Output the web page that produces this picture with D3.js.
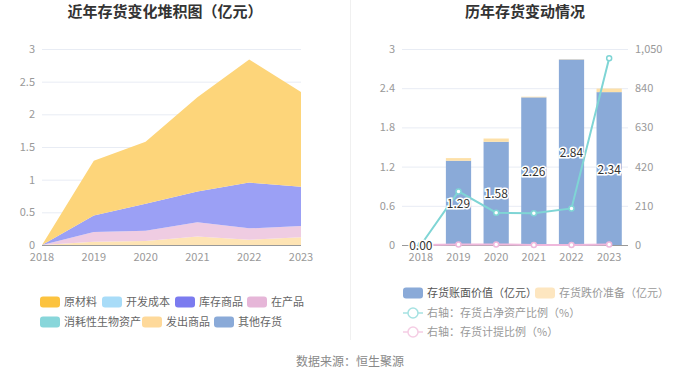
<!DOCTYPE html>
<html><head><meta charset="utf-8">
<script src="https://cdn.jsdelivr.net/npm/d3@7/dist/d3.min.js"></script>
<style>body{margin:0;background:#fff;font-family:"Noto Sans CJK SC","Noto Sans",sans-serif;}</style>
</head><body><svg id="c" width="700" height="378"></svg>
<script>
const years = ["2018","2019","2020","2021","2022","2023"];
// stacked area series (亿元)
const yuanCailiao   = [0, 0.84, 0.95, 1.44, 1.885, 1.45];
const kaifaChengben = [0, 0, 0, 0, 0, 0];
const kucunShangpin = [0, 0.25, 0.41, 0.47, 0.70, 0.60];
const zaiChanpin    = [0, 0.15, 0.16, 0.22, 0.175, 0.17];
const xiaohaoSheng  = [0, 0, 0, 0, 0, 0];
const fachuShangpin = [0, 0.05, 0.06, 0.13, 0.08, 0.12];
const qitaCunhuo    = [0, 0, 0, 0, 0, 0];
// right chart
const bookValue  = [0.00, 1.29, 1.58, 2.26, 2.84, 2.34];
const provision  = [0, 0.04, 0.05, 0.01, 0.005, 0.055];
const ratioNet   = [0, 287, 173, 170, 196, 1000];
const ratioProv  = [0, 3, 3, 0.4, 0.2, 2.3];
const leftTicks  = [0, 0.5, 1, 1.5, 2, 2.5, 3];
const barTicks   = [0, 0.6, 1.2, 1.8, 2.4, 3];
const rightTicks = [0, 210, 420, 630, 840, 1050];

const svg = d3.select("#c");
const tickColor = "#999", gridColor = "#e8ecf4";

// titles
svg.append("text").attr("x",165).attr("y",17).attr("text-anchor","middle")
  .attr("font-size",15).attr("font-weight","bold").attr("fill","#333").text("近年存货变化堆积图（亿元）");
svg.append("text").attr("x",525).attr("y",17).attr("text-anchor","middle")
  .attr("font-size",15).attr("font-weight","bold").attr("fill","#333").text("历年存货变动情况");
svg.append("line").attr("x1",350.5).attr("x2",350.5).attr("y1",0).attr("y2",340).attr("stroke","#f0f0f0");
svg.append("text").attr("x",350).attr("y",366).attr("text-anchor","middle")
  .attr("font-size",12).attr("fill","#888").text("数据来源：恒生聚源");

// ---------- left chart ----------
const series = [
  {name:"原材料", vals:yuanCailiao, color:"#fcc33f", area:"#fdd57a"},
  {name:"开发成本", vals:kaifaChengben, color:"#a8dcf8", area:"#a8dcf8"},
  {name:"库存商品", vals:kucunShangpin, color:"#7b7bef", area:"#9ba0f5"},
  {name:"在产品", vals:zaiChanpin, color:"#e6b6d8", area:"#efcce2"},
  {name:"消耗性生物资产", vals:xiaohaoSheng, color:"#88d6da", area:"#88d6da"},
  {name:"发出商品", vals:fachuShangpin, color:"#fed99a", area:"#fee4b4"},
  {name:"其他存货", vals:qitaCunhuo, color:"#8aaad8", area:"#8aaad8"}
];
const x1 = d3.scalePoint().domain(years).range([42,301]);
const y1 = d3.scaleLinear().domain([0,3]).range([245,49]);
const gL = svg.append("g");
gL.selectAll("line.g").data(leftTicks.slice(1)).join("line")
  .attr("x1",42).attr("x2",301).attr("y1",d=>y1(d)+0.5).attr("y2",d=>y1(d)+0.5).attr("stroke",gridColor);
gL.selectAll("text.yt").data(leftTicks).join("text")
  .attr("x",35).attr("y",d=>y1(d)+4).attr("text-anchor","end").attr("font-size",11).attr("fill",tickColor).text(d=>d);
// stack order bottom->top
const order = [5,3,2,0,1,4,6];
const table = years.map((y,i)=>{const o={year:y}; series.forEach(s=>o[s.name]=s.vals[i]); return o;});
const stackKeys = order.map(i=>series[i].name);
const stacked = d3.stack().keys(stackKeys)(table);
const area = d3.area().x(d=>x1(d.data.year)).y0(d=>y1(d[0])).y1(d=>y1(d[1]));
stacked.forEach((layer,k)=>{
  const s = series[order[k]];
  gL.append("path").datum(layer).attr("d",area).attr("fill",s.area);
});
gL.append("line").attr("x1",42).attr("x2",301).attr("y1",245.5).attr("y2",245.5).attr("stroke","#999");
gL.selectAll("text.xt").data(years).join("text")
  .attr("x",d=>x1(d)).attr("y",261).attr("text-anchor","middle").attr("font-size",11).attr("fill",tickColor).text(d=>d);
// legend left
const legL = [
  {i:0,x:40,y:302},{i:1,x:102,y:302},{i:2,x:175,y:302},{i:3,x:247,y:302},
  {i:4,x:40,y:322},{i:5,x:142,y:322},{i:6,x:214,y:322}
];
legL.forEach(l=>{
  const s = series[l.i];
  svg.append("rect").attr("x",l.x).attr("y",l.y-5.5).attr("width",20).attr("height",11).attr("rx",3).attr("fill",s.color);
  svg.append("text").attr("x",l.x+24).attr("y",l.y+4).attr("font-size",11).attr("fill","#666").text(s.name);
});

// ---------- right chart ----------
const x2 = d3.scaleBand().domain(years).range([402,628]).paddingInner(0.33).paddingOuter(0.165);
const y2 = d3.scaleLinear().domain([0,3]).range([245,49]);
const y3 = d3.scaleLinear().domain([0,1050]).range([245,49]);
const gR = svg.append("g");
gR.selectAll("line.g").data(barTicks.slice(1)).join("line")
  .attr("x1",402).attr("x2",628).attr("y1",d=>y2(d)+0.5).attr("y2",d=>y2(d)+0.5).attr("stroke",gridColor);
gR.selectAll("text.yl").data(barTicks).join("text")
  .attr("x",395).attr("y",d=>y2(d)+4).attr("text-anchor","end").attr("font-size",11).attr("fill",tickColor).text(d=>d);
gR.selectAll("text.yr").data(rightTicks).join("text")
  .attr("x",635).attr("y",d=>y3(d)+4).attr("text-anchor","start").attr("font-size",11).attr("fill",tickColor).text(d=>d3.format(",")(d));
// bars
gR.selectAll("rect.b").data(years).join("rect")
  .attr("x",d=>x2(d)).attr("width",x2.bandwidth())
  .attr("y",(d,i)=>y2(bookValue[i])).attr("height",(d,i)=>y2(0)-y2(bookValue[i])).attr("fill","#8aaad8");
gR.selectAll("rect.p").data(years).join("rect")
  .attr("x",d=>x2(d)).attr("width",x2.bandwidth())
  .attr("y",(d,i)=>y2(bookValue[i]+provision[i])).attr("height",(d,i)=>y2(bookValue[i])-y2(bookValue[i]+provision[i])).attr("fill","#fde0a8");
gR.append("line").attr("x1",402).attr("x2",628).attr("y1",245.5).attr("y2",245.5).attr("stroke","#999");
gR.selectAll("text.xt").data(years).join("text")
  .attr("x",d=>x2(d)+x2.bandwidth()/2).attr("y",261).attr("text-anchor","middle").attr("font-size",11).attr("fill",tickColor).text(d=>d);
// lines
const cx = d=>x2(d)+x2.bandwidth()/2;
const lineR = vals=>d3.line().x((d,i)=>cx(years[i])).y((d,i)=>y3(vals[i]));
gR.append("path").datum(ratioProv).attr("d",lineR(ratioProv)).attr("fill","none").attr("stroke","#efb8dc").attr("stroke-width",2);
gR.selectAll("circle.p").data(ratioProv).join("circle").attr("cx",(d,i)=>cx(years[i])).attr("cy",d=>y3(d)).attr("r",2.5)
  .attr("fill","#fff").attr("stroke","#efb8dc").attr("stroke-width",1.5);
gR.append("path").datum(ratioNet).attr("d",lineR(ratioNet)).attr("fill","none").attr("stroke","#7fd5d5").attr("stroke-width",2);
gR.selectAll("circle.n").data(ratioNet).join("circle").attr("cx",(d,i)=>cx(years[i])).attr("cy",d=>y3(d)).attr("r",2.5)
  .attr("fill","#fff").attr("stroke","#7fd5d5").attr("stroke-width",1.5);
// labels
gR.selectAll("text.lb").data(bookValue).join("text")
  .attr("x",(d,i)=>cx(years[i])).attr("y",d=>y2(d/2)+5).attr("text-anchor","middle")
  .attr("font-size",12).attr("fill","#333").attr("stroke","#fff").attr("stroke-width",3).attr("paint-order","stroke")
  .text(d=>d.toFixed(2));
// legend right
svg.append("rect").attr("x",403).attr("y",287.5).attr("width",20).attr("height",11).attr("rx",3).attr("fill","#8aaad8");
svg.append("text").attr("x",427).attr("y",297).attr("font-size",11).attr("fill","#555").text("存货账面价值（亿元）");
svg.append("rect").attr("x",535).attr("y",287.5).attr("width",20).attr("height",11).attr("rx",3).attr("fill","#fde6c0");
svg.append("text").attr("x",559).attr("y",297).attr("font-size",11).attr("fill","#999").text("存货跌价准备（亿元）");
[{y:313,c:"#a6e2e2",t:"右轴：存货占净资产比例（%）"},{y:332,c:"#f5cde4",t:"右轴：存货计提比例（%）"}].forEach(l=>{
  svg.append("line").attr("x1",403).attr("x2",423).attr("y1",l.y).attr("y2",l.y).attr("stroke",l.c).attr("stroke-width",1.5);
  svg.append("circle").attr("cx",413).attr("cy",l.y).attr("r",5).attr("fill","#fff").attr("stroke",l.c).attr("stroke-width",1.5);
  svg.append("text").attr("x",427).attr("y",l.y+4).attr("font-size",11).attr("fill","#999").text(l.t);
});
</script></body></html>
